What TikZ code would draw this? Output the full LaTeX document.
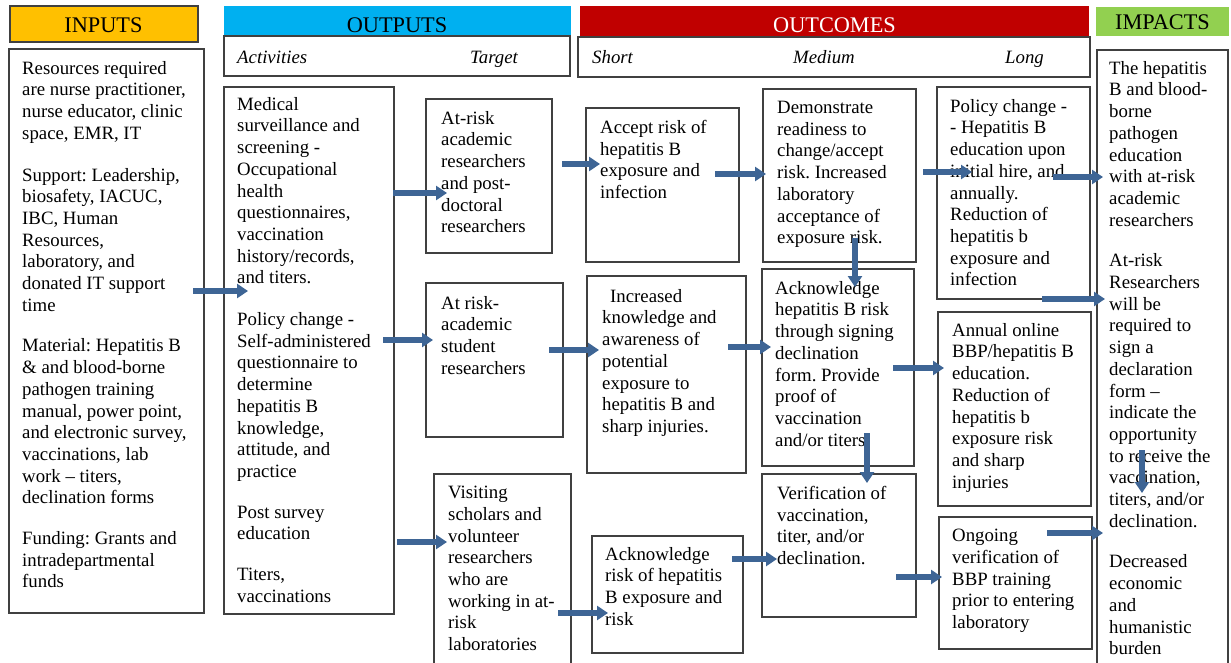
\documentclass[tikz,border=0pt]{standalone}
\usepackage{fontspec}
\setmainfont{Liberation Serif}
\usetikzlibrary{arrows.meta}
\definecolor{hdrY}{HTML}{FFC000}
\definecolor{hdrB}{HTML}{00B0F0}
\definecolor{hdrR}{HTML}{C00000}
\definecolor{hdrG}{HTML}{92D050}
\definecolor{arr}{HTML}{3E6595}
\definecolor{edge}{HTML}{404040}
\frenchspacing
\begin{document}
\begin{tikzpicture}[x=1pt,y=-1pt,
 box/.style={draw=edge,line width=1.2pt,anchor=north west,inner sep=0pt,outer sep=0pt},
 band/.style={anchor=north west,inner sep=0pt,outer sep=0pt},
 txt/.style={anchor=north west,inner sep=0pt,yshift=-2.5pt,align=left,font=\fontsize{18.8}{21.7}\selectfont},
 hdr/.style={anchor=base,inner sep=0pt,font=\fontsize{22.3}{26}\selectfont},
 sub/.style={anchor=base west,inner sep=0pt,font=\fontsize{18.8}{21.7}\selectfont\itshape},
 flow/.style={draw=arr,line width=5.5pt,-{Triangle[length=11pt,width=14pt]}},
]
\useasboundingbox (0,0) rectangle (1231,662);
\clip (0,0) rectangle (1231,662);

% ---------- header bands ----------
\node[box,fill=hdrY,minimum width=188pt,minimum height=36pt] (hIn) at (10,6) {};
\node[band,fill=hdrB,minimum width=347pt,minimum height=30pt] (hOut) at (224,6) {};
\node[band,fill=hdrR,minimum width=509pt,minimum height=30pt] (hOc) at (580,6) {};
\node[band,fill=hdrG,minimum width=133pt,minimum height=29pt] (hIm) at (1096,7) {};
\node[box,minimum width=346pt,minimum height=40pt] (sOut) at (224,36) {};
\node[box,minimum width=512pt,minimum height=40pt] (sOc) at (578,37) {};

\node[hdr] (tIn) at (103.5,32) {INPUTS};
\node[hdr] (tOut) at (397,32) {OUTPUTS};
\node[hdr,text=white] (tOc) at (834.5,32) {OUTCOMES};
\node[hdr] (tIm) at (1162.5,29) {IMPACTS};

\node[sub] (sAct) at (237,63) {Activities};
\node[sub] (sTar) at (470,63) {Target};
\node[sub] (sSho) at (592,63) {Short};
\node[sub] (sMed) at (793,63) {Medium};
\node[sub] (sLon) at (1005,63) {Long};

% ---------- boxes ----------
\node[box,minimum width=195pt,minimum height=564pt] (inB) at (9,49) {};
\node[box,minimum width=170pt,minimum height=527pt] (actB) at (224,87) {};
\node[box,minimum width=126pt,minimum height=154pt] (tarA) at (426,99) {};
\node[box,minimum width=137pt,minimum height=154pt] (tarB) at (426,283) {};
\node[box,minimum width=137pt,minimum height=220pt] (tarC) at (434,474) {};
\node[box,minimum width=153pt,minimum height=154pt] (shoA) at (586,108) {};
\node[box,minimum width=159pt,minimum height=197pt] (shoB) at (587,276) {};
\node[box,minimum width=151pt,minimum height=117pt] (shoC) at (592,536) {};
\node[box,minimum width=153pt,minimum height=173pt] (medA) at (763,89) {};
\node[box,minimum width=152pt,minimum height=197pt] (medB) at (762,269) {};
\node[box,minimum width=154pt,minimum height=143pt] (medC) at (762,474) {};
\node[box,minimum width=153pt,minimum height=212pt] (lonA) at (937,87) {};
\node[box,minimum width=153pt,minimum height=194pt] (lonB) at (938,312) {};
\node[box,minimum width=153pt,minimum height=132pt] (lonC) at (939,517) {};
\node[box,minimum width=131pt,minimum height=640pt] (impB) at (1097,50) {};

% ---------- texts ----------
\node[txt] (inT) at (22,58.5) {Resources required\\are nurse practitioner,\\nurse educator, clinic\\space, EMR, IT\\[20pt]
Support: Leadership,\\biosafety, IACUC,\\IBC, Human\\Resources,\\laboratory, and\\donated IT support\\time\\[19pt]
Material: Hepatitis B\\\& and blood-borne\\pathogen training\\manual, power point,\\and electronic survey,\\vaccinations, lab\\work – titers,\\declination forms\\[19pt]
Funding: Grants and\\intradepartmental\\funds};

\node[txt] (actT) at (237,94.5) {Medical\\surveillance and\\screening -\\Occupational\\health\\questionnaires,\\vaccination\\history/records,\\and titers.\\[20pt]
Policy change -\\Self-administered\\questionnaire to\\determine\\hepatitis B\\knowledge,\\attitude, and\\practice\\[19pt]
Post survey\\education\\[19pt]
Titers,\\vaccinations};

\node[txt] (tarAT) at (441,108.5) {At-risk\\academic\\researchers\\and post-\\doctoral\\researchers};
\node[txt] (tarBT) at (441,293.5) {At risk-\\academic\\student\\researchers};
\node[txt] (tarCT) at (448,483.5) {Visiting\\scholars and\\volunteer\\researchers\\who are\\working in at-\\risk\\laboratories};

\node[txt] (shoAT) at (600,117.5) {Accept risk of\\hepatitis B\\exposure and\\infection};
\node[txt] (shoBT) at (602,286.5) {\hspace*{8pt}Increased\\knowledge and\\awareness of\\potential\\exposure to\\hepatitis B and\\sharp injuries.};
\node[txt] (shoCT) at (605,544.5) {Acknowledge\\risk of hepatitis\\B exposure and\\risk};

\node[txt] (medAT) at (777,98.5) {Demonstrate\\readiness to\\change/accept\\risk. Increased\\laboratory\\acceptance of\\exposure risk.};
\node[txt] (medBT) at (775,278.5) {Acknowledge\\hepatitis B risk\\through signing\\declination\\form. Provide\\proof of\\vaccination\\and/or titers};
\node[txt] (medCT) at (777,483.5) {Verification of\\vaccination,\\titer, and/or\\declination.};

\node[txt] (lonAT) at (950,96.5) {Policy change -\\- Hepatitis B\\education upon\\initial hire, and\\annually.\\Reduction of\\hepatitis b\\exposure and\\infection};
\node[txt] (lonBT) at (952,320.5) {Annual online\\BBP/hepatitis B\\education.\\Reduction of\\hepatitis b\\exposure risk\\and sharp\\injuries};
\node[txt] (lonCT) at (952,526.5) {Ongoing\\verification of\\BBP training\\prior to entering\\laboratory};

\node[txt] (impT) at (1109,58.5) {The hepatitis\\B and blood-\\borne\\pathogen\\education\\with at-risk\\academic\\researchers\\[19pt]
At-risk\\Researchers\\will be\\required to\\sign a\\declaration\\form –\\indicate the\\opportunity\\to receive the\\vaccination,\\titers, and/or\\declination.\\[19pt]
Decreased\\economic\\and\\humanistic\\burden};

% ---------- connector ends ----------
\coordinate (c1s) at (193,291);  \coordinate (c1e) at (248,291);
\coordinate (c2s) at (393,193);  \coordinate (c2e) at (447,193);
\coordinate (c3s) at (383,340);  \coordinate (c3e) at (433,340);
\coordinate (c4s) at (397,542);  \coordinate (c4e) at (447,542);
\coordinate (c5s) at (562,164);  \coordinate (c5e) at (600,164);
\coordinate (c6s) at (549,350);  \coordinate (c6e) at (599,350);
\coordinate (c7s) at (558,613);  \coordinate (c7e) at (608,613);
\coordinate (c8s) at (715,174);  \coordinate (c8e) at (766,174);
\coordinate (c9s) at (728,347);  \coordinate (c9e) at (771,347);
\coordinate (c10s) at (732,559); \coordinate (c10e) at (777,559);
\coordinate (c11s) at (855,238); \coordinate (c11e) at (855,287);
\coordinate (c12s) at (867,433); \coordinate (c12e) at (867,483);
\coordinate (c13s) at (923,172); \coordinate (c13e) at (972,172);
\coordinate (c14s) at (893,368); \coordinate (c14e) at (944,368);
\coordinate (c15s) at (896,577); \coordinate (c15e) at (942,577);
\coordinate (c16s) at (1053,177); \coordinate (c16e) at (1103,177);
\coordinate (c17s) at (1042,299); \coordinate (c17e) at (1105,299);
\coordinate (c18s) at (1047,533); \coordinate (c18e) at (1103,533);
\coordinate (c19s) at (1142,450); \coordinate (c19e) at (1142,493);

\foreach \i in {1,...,19} {\draw[flow] (c\i s) -- (c\i e);}
\end{tikzpicture}
\end{document}
